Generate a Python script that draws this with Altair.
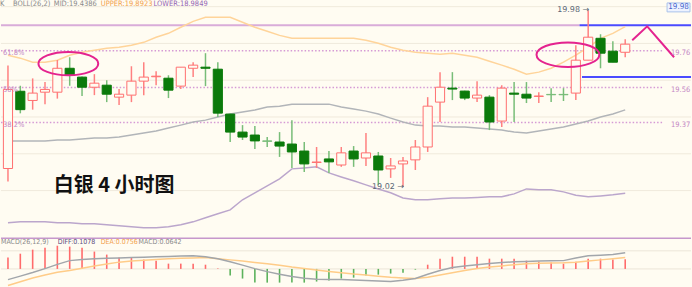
import altair as alt
import pandas as pd

# ---------------- silver, 4-hour bars ----------------
opens = [19.12, 19.54, 19.49, 19.535, 19.535, 19.665, 19.617, 19.562, 19.573, 19.508,
         19.519, 19.595, 19.619, 19.611, 19.568, 19.665, 19.671, 19.660, 19.416, 19.318,
         19.302, 19.270, 19.264, 19.253, 19.215, 19.153, 19.172, 19.139, 19.215, 19.177,
         19.188, 19.118, 19.145, 19.167, 19.237, 19.481, 19.557, 19.541, 19.503, 19.508,
         19.378, 19.530, 19.524, 19.512, 19.523, 19.523, 19.530, 19.709, 19.828, 19.758,
         19.752]
highs = [19.68, 19.57, 19.61, 19.59, 19.71, 19.725, 19.62, 19.633, 19.60, 19.552,
         19.676, 19.698, 19.649, 19.627, 19.672, 19.698, 19.747, 19.698, 19.418, 19.356,
         19.351, 19.291, 19.318, 19.383, 19.264, 19.237, 19.215, 19.237, 19.242, 19.313,
         19.210, 19.177, 19.183, 19.275, 19.508, 19.644, 19.644, 19.543, 19.595, 19.519,
         19.573, 19.590, 19.590, 19.535, 19.557, 19.557, 19.790, 19.980, 19.850, 19.812,
         19.823]
lows = [19.05, 19.42, 19.44, 19.47, 19.50, 19.57, 19.514, 19.519, 19.481, 19.465,
        19.481, 19.519, 19.573, 19.503, 19.552, 19.617, 19.568, 19.400, 19.264, 19.275,
        19.226, 19.237, 19.183, 19.123, 19.101, 19.123, 19.096, 19.129, 19.129, 19.134,
        19.031, 19.069, 19.020, 19.112, 19.210, 19.373, 19.492, 19.492, 19.481, 19.329,
        19.346, 19.373, 19.476, 19.476, 19.481, 19.487, 19.492, 19.709, 19.665, 19.698,
        19.725]
closes = [19.55, 19.44, 19.53, 19.55, 19.665, 19.627, 19.562, 19.584, 19.524, 19.524,
          19.595, 19.617, 19.622, 19.546, 19.671, 19.682, 19.665, 19.421, 19.318, 19.291,
          19.270, 19.268, 19.242, 19.210, 19.145, 19.155, 19.156, 19.205, 19.172, 19.205,
          19.112, 19.134, 19.161, 19.237, 19.459, 19.562, 19.552, 19.503, 19.519, 19.373,
          19.557, 19.524, 19.503, 19.514, 19.521, 19.521, 19.709, 19.834, 19.747, 19.698,
          19.796]

# Bollinger bands BOLL(26,2)
boll_upper = [19.736, 19.720, 19.698, 19.698, 19.709, 19.736, 19.752, 19.763, 19.774, 19.779,
              19.790, 19.806, 19.834, 19.855, 19.888, 19.920, 19.942, 19.942, 19.942, 19.915,
              19.888, 19.866, 19.844, 19.828, 19.828, 19.828, 19.828, 19.828, 19.828, 19.817,
              19.801, 19.779, 19.763, 19.752, 19.747, 19.741, 19.747, 19.736, 19.725, 19.703,
              19.682, 19.660, 19.633, 19.644, 19.665, 19.698, 19.736, 19.779, 19.828, 19.855,
              19.892]
boll_mid = [19.270, 19.270, 19.270, 19.270, 19.275, 19.275, 19.280, 19.286, 19.286, 19.291,
            19.302, 19.313, 19.324, 19.340, 19.356, 19.373, 19.383, 19.400, 19.416, 19.427,
            19.438, 19.454, 19.459, 19.470, 19.470, 19.470, 19.470, 19.454, 19.443, 19.432,
            19.416, 19.394, 19.373, 19.356, 19.351, 19.351, 19.346, 19.346, 19.340, 19.335,
            19.329, 19.318, 19.313, 19.324, 19.335, 19.346, 19.362, 19.378, 19.400, 19.416,
            19.439]
boll_lower = [18.825, 18.830, 18.830, 18.830, 18.825, 18.825, 18.819, 18.819, 18.814, 18.809,
              18.803, 18.798, 18.798, 18.803, 18.814, 18.830, 18.852, 18.874, 18.895, 18.950,
              18.988, 19.026, 19.064, 19.118, 19.123, 19.129, 19.096, 19.074, 19.053, 19.031,
              19.009, 18.988, 18.960, 18.950, 18.950, 18.955, 18.960, 18.960, 18.963, 18.966,
              18.966, 18.982, 19.009, 19.004, 19.004, 18.993, 18.975, 18.966, 18.971, 18.977,
              18.985]

# MACD(26,12,9)
macd_hist = [0.075, 0.101, 0.128, 0.141, 0.154, 0.148, 0.141, 0.115, 0.095, 0.075,
             0.075, 0.062, 0.055, 0.035, 0.035, 0.035, 0.028, 0.002, -0.044, -0.064,
             -0.091, -0.091, -0.091, -0.091, -0.091, -0.084, -0.077, -0.064, -0.058, -0.044,
             -0.038, -0.031, -0.025, -0.005, 0.028, 0.068, 0.081, 0.081, 0.081, 0.068,
             0.068, 0.068, 0.055, 0.048, 0.042, 0.035, 0.048, 0.068, 0.068, 0.062,
             0.0642]
macd_diff = [-0.071, -0.048, -0.024, 0.002, 0.030, 0.055, 0.062, 0.068, 0.070, 0.072,
             0.075, 0.078, 0.081, 0.083, 0.086, 0.088, 0.081, 0.068, 0.048, 0.025,
             0.002, -0.018, -0.035, -0.050, -0.062, -0.068, -0.071, -0.071, -0.073, -0.077,
             -0.081, -0.084, -0.076, -0.064, -0.035, -0.011, 0.009, 0.020, 0.028, 0.036,
             0.042, 0.048, 0.050, 0.052, 0.054, 0.055, 0.072, 0.088, 0.091, 0.095,
             0.1078]
macd_dea = [-0.110, -0.085, -0.060, -0.040, -0.022, -0.011, 0.005, 0.020, 0.032, 0.045,
            0.052, 0.058, 0.063, 0.067, 0.070, 0.073, 0.075, 0.068, 0.060, 0.052,
            0.043, 0.035, 0.024, 0.012, 0.002, -0.008, -0.017, -0.025, -0.034, -0.040,
            -0.048, -0.055, -0.060, -0.064, -0.055, -0.040, -0.025, -0.010, 0.003, 0.012,
            0.020, 0.028, 0.035, 0.037, 0.039, 0.041, 0.045, 0.052, 0.060, 0.068,
            0.0756]

fib_levels = [19.76, 19.56, 19.37]
fib_pcts = ["61.8%", "50%", "38.2%"]
fib_prices = ["19.76", "19.56", "19.37"]
grid_prices = [19.0, 19.2, 19.4, 19.6, 19.8, 20.0]

resistance = 19.899   # upper horizontal level
support = 19.617      # lower blue level
zigzag_x = [50.57, 51.78, 53.96]
zigzag_p = [19.817, 19.893, 19.725]

# ---------------- layout / styling ----------------
W, TOP_H, BOT_H = 692, 237, 50
BG = "#fffcf2"
UP, UP_WICK = "#ff6f6f", "#ff8080"
DOWN, DOWN_WICK = "#0b7a0b", "#78bd78"
MAGENTA = "#e4238f"
FIB = "#d59ad5"
SMALL_FONT = "'Liberation Sans Narrow', 'DejaVu Sans Condensed', 'Liberation Sans'"

xs = alt.Scale(domain=[-0.565, 55.33], nice=False, zero=False)
ps = alt.Scale(domain=[18.749, 20.034], nice=False, zero=False)
ms = alt.Scale(domain=[-0.124, 0.207], nice=False, zero=False)

n = len(opens)
bars = pd.DataFrame({"i": range(n), "open": opens, "high": highs, "low": lows, "close": closes,
                     "upper": boll_upper, "mid": boll_mid, "lower": boll_lower,
                     "hist": macd_hist, "diff": macd_diff, "dea": macd_dea})
rising = bars["close"] >= bars["open"]
cross = (bars["close"] - bars["open"]).abs() < 0.004
bars["x0"] = bars["i"] - 0.37
bars["x1"] = bars["i"] + 0.37
bars["wick"] = [UP_WICK if r else DOWN_WICK for r in rising]
bars["fill"] = [BG if r else (DOWN_WICK if c else DOWN) for r, c in zip(rising, cross)]
bars["stroke"] = [UP if r else (DOWN_WICK if c else DOWN) for r, c in zip(rising, cross)]
bars["hcol"] = ["#ff6b6b" if h >= 0 else "#5cb25c" for h in macd_hist]
bars["zero"] = 0.0

X = alt.X("i:Q", scale=xs, axis=None)
base = alt.Chart(bars)


def label(text, x, y, color, size=7.5, weight="normal", align="left", font=SMALL_FONT):
    return alt.Chart(pd.DataFrame({"t": [text]})).mark_text(
        align=align, baseline="middle", fontSize=size, fontWeight=weight, font=font, color=color
    ).encode(x=alt.value(x), y=alt.value(y), text="t:N")


def hline(level, x_from, x_to, color, width, dash=None):
    kw = dict(color=color, strokeWidth=width)
    if dash:
        kw["strokeDash"] = dash
    d = pd.DataFrame({"p": [level], "a": [x_from], "b": [x_to]})
    return alt.Chart(d).mark_rule(**kw).encode(
        x=alt.X("a:Q", scale=xs, axis=None), x2="b:Q",
        y=alt.Y("p:Q", scale=ps, axis=None))


# ---------------- price panel ----------------
grid = alt.Chart(pd.DataFrame({"p": grid_prices})).mark_rule(color="#f0eadc", strokeWidth=1).encode(
    y=alt.Y("p:Q", scale=ps, axis=None))

fib_df = pd.DataFrame({"p": fib_levels, "pct": fib_pcts, "txt": fib_prices})
fib_lines = alt.Chart(fib_df).mark_rule(color=FIB, strokeWidth=1.5, strokeDash=[1.5, 2]).encode(
    x=alt.value(0), x2=alt.value(663), y=alt.Y("p:Q", scale=ps, axis=None))
fib_left = alt.Chart(fib_df).mark_text(align="left", baseline="middle", fontSize=7.5, dy=2,
                                       font=SMALL_FONT, color="#c486c4").encode(
    x=alt.value(2), y=alt.Y("p:Q", scale=ps, axis=None), text="pct:N")
fib_right = alt.Chart(fib_df).mark_text(align="left", baseline="middle", fontSize=7.5, dy=2,
                                        font=SMALL_FONT, color="#c486c4").encode(
    x=alt.value(672), y=alt.Y("p:Q", scale=ps, axis=None), text="txt:N")

res_left = hline(resistance, -0.565, 46.3, "#d9acd9", 2)
res_right = hline(resistance, 46.3, 55.33, "#4b4bff", 2)
sup_right = hline(support, 46.5, 55.33, "#4b4bff", 2)

Y = lambda f: alt.Y(f"{f}:Q", scale=ps, axis=None)
band_up = base.mark_line(color="#ffd49a", strokeWidth=1.5).encode(x=X, y=Y("upper"))
band_mid = base.mark_line(color="#b2b5b9", strokeWidth=1.5).encode(x=X, y=Y("mid"))
band_low = base.mark_line(color="#bba6cc", strokeWidth=1.5).encode(x=X, y=Y("lower"))

wicks = base.mark_rule(strokeWidth=1.5).encode(
    x=X, y=Y("low"), y2="high:Q", color=alt.Color("wick:N", scale=None))
bodies = base.mark_rect(strokeWidth=1).encode(
    x=alt.X("x0:Q", scale=xs, axis=None), x2="x1:Q", y=Y("open"), y2="close:Q",
    fill=alt.Fill("fill:N", scale=None), stroke=alt.Stroke("stroke:N", scale=None))

ellipse_path = ("M -1 0 C -1 -0.2154 -0.5523 -0.39 0 -0.39 C 0.5523 -0.39 1 -0.2154 1 0 "
                "C 1 0.2154 0.5523 0.39 0 0.39 C -0.5523 0.39 -1 0.2154 -1 0 Z")
ell_df = pd.DataFrame({"i": [4.89, 45.36], "p": [19.690, 19.739], "s": [3600, 3969]})
ellipses = alt.Chart(ell_df).mark_point(shape=ellipse_path, filled=False, color=MAGENTA,
                                        strokeWidth=2, opacity=1).encode(
    x=X, y=Y("p"), size=alt.Size("s:Q", scale=None))

zz = alt.Chart(pd.DataFrame({"i": zigzag_x, "p": zigzag_p, "o": [0, 1, 2]})).mark_line(
    color=MAGENTA, strokeWidth=2).encode(x=X, y=Y("p"), order="o:O")

hi_i = int(pd.Series(highs).idxmax())
lo_i = int(pd.Series(lows).idxmin())
ext = pd.DataFrame({"i": [hi_i, lo_i], "p": [highs[hi_i], lows[lo_i]],
                    "t": [f"{highs[hi_i]:.2f} →", f"{lows[lo_i]:.2f} →"]})
ext_labels = alt.Chart(ext).mark_text(align="right", baseline="middle", fontSize=8, dx=1,
                                      font="DejaVu Sans", color="#5a6776").encode(
    x=X, y=Y("p"), text="t:N")

price_box = alt.Chart(pd.DataFrame({"t": ["19.98"]})).mark_rect(
    fill="#eef3ff", stroke="#a9c2ea", strokeWidth=1).encode(
    x=alt.value(668), x2=alt.value(691), y=alt.value(2.5), y2=alt.value(11.5))
price_box_txt = label("19.98", 679.5, 7, "#4866cc", size=8, align="center")

title = label("白银 4 小时图", 53, 186, "#111111", size=20, weight="bold", font="Noto Sans CJK SC")

head = [
    label("K", -1, 4, "#8a8a8a"),
    label("BOLL(26,2)", 12, 4, "#8a8a8a"),
    label("MID:19.4386", 53, 4, "#8a8a8a"),
    label("UPPER:19.8923", 100, 4, "#f2a24e"),
    label("LOWER:18.9849", 153, 4, "#9466b4"),
]

top = alt.layer(
    grid, fib_lines, res_left, res_right, sup_right,
    band_up, band_mid, band_low, wicks, bodies,
    ellipses, zz, ext_labels, fib_left, fib_right, price_box, price_box_txt, title, *head
).properties(width=W, height=TOP_H)

# ---------------- MACD panel ----------------
MY = lambda f: alt.Y(f"{f}:Q", scale=ms, axis=None)
mgrid = alt.Chart(pd.DataFrame({"v": [0.0, 0.12]})).mark_rule(color="#ece6d8", strokeWidth=1).encode(
    y=MY("v"))
sep = alt.Chart(pd.DataFrame({"v": [0.2035]})).mark_rule(color="#c697cc", strokeWidth=1.5).encode(
    y=MY("v"))
hist = base.mark_rule(strokeWidth=1.6).encode(
    x=X, y=MY("zero"), y2="hist:Q", color=alt.Color("hcol:N", scale=None))
dea_line = base.mark_line(color="#ffcc88", strokeWidth=1.5).encode(x=X, y=MY("dea"))
diff_line = base.mark_line(color="#a2a6ab", strokeWidth=1.5).encode(x=X, y=MY("diff"))

mhead = [
    label("MACD(26,12,9)", 0, 4.5, "#8a8a8a", size=7),
    label("DIFF:0.1078", 57, 4.5, "#5d4f7e", size=7),
    label("DEA:0.0756", 100, 4.5, "#f2a24e", size=7),
    label("MACD:0.0642", 138, 4.5, "#8a8a8a", size=7),
]

bottom = alt.layer(mgrid, sep, hist, dea_line, diff_line, *mhead).properties(width=W, height=BOT_H)

chart = alt.vconcat(top, bottom, spacing=0, padding=0, background=BG).configure_view(
    strokeWidth=0, fill=BG)

chart.save("out.html", embed_options={"renderer": "svg", "actions": False})
